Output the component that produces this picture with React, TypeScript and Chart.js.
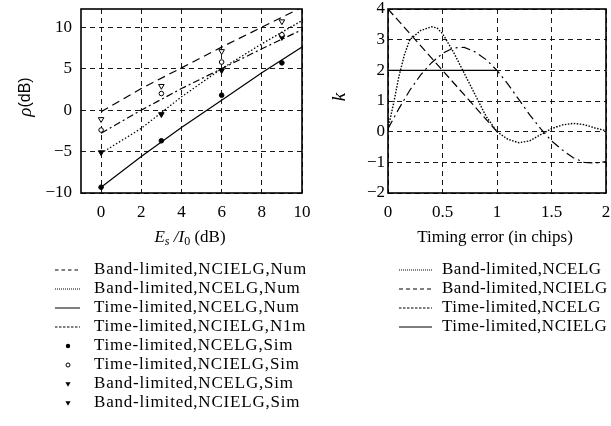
import React, { useEffect, useRef } from "react";
import { Chart, registerables } from "chart.js";

Chart.register(...registerables);

// ---------- Left panel: rho vs Es/I0 ----------
const esTicks = [0, 2, 4, 6, 8, 10];
const rhoTicks = [-10, -5, 0, 5, 10];
const numX = [0, 2, 4, 6, 8, 10];
const bandNCIELGNum = [-0.2, 2.6, 5.1, 7.6, 10.0, 12.4];
const bandNCELGNum = [-5.2, -2.2, 1.6, 5.0, 8.0, 10.8];
const timeNCELGNum = [-9.3, -5.6, -2.1, 1.2, 4.5, 7.6];
const timeNCIELGNum = [-2.8, 0.0, 2.6, 5.0, 7.4, 9.7];
const simX = [0, 3, 6, 9];
const timeNCELGSim = [-9.3, -3.7, 1.8, 5.7];
const timeNCIELGSim = [-2.4, 2.0, 5.8, 9.1];
const bandNCELGSim = [-5.1, -0.5, 4.8, 8.8];
const bandNCIELGSim = [-1.1, 2.9, 7.1, 10.7];
const leftLabels = [
  "Band-limited,NCIELG,Num",
  "Band-limited,NCELG,Num",
  "Time-limited,NCELG,Num",
  "Time-limited,NCIELG,N1m",
  "Time-limited,NCELG,Sim",
  "Time-limited,NCIELG,Sim",
  "Band-limited,NCELG,Sim",
  "Band-limited,NCIELG,Sim",
];

// ---------- Right panel: k vs timing error ----------
const chipTicks = [0, 0.5, 1, 1.5, 2];
const kTicks = [-2, -1, 0, 1, 2, 3, 4];
const bandNCELGX = [0, 0.05, 0.1, 0.15, 0.2, 0.3, 0.4, 0.45, 0.5, 0.6, 0.7, 0.8, 0.9, 1.0, 1.1, 1.2, 1.3, 1.4, 1.5, 1.6, 1.7, 1.8, 1.9, 2.0];
const bandNCELGK = [0.1, 0.9, 1.8, 2.5, 3.0, 3.3, 3.42, 3.38, 3.2, 2.6, 1.9, 1.2, 0.5, 0.0, -0.25, -0.36, -0.3, -0.1, 0.1, 0.22, 0.27, 0.23, 0.12, 0.03];
const bandNCIELGX = [0, 0.1, 0.2, 0.3, 0.4, 0.5, 0.6, 0.7, 0.8, 0.9, 1.0, 1.1, 1.2, 1.3, 1.4, 1.5, 1.6, 1.7, 1.8, 1.9, 2.0];
const bandNCIELGK = [0.1, 0.75, 1.35, 1.85, 2.25, 2.55, 2.73, 2.75, 2.6, 2.35, 2.0, 1.55, 1.05, 0.55, 0.1, -0.3, -0.6, -0.85, -1.0, -1.02, -0.98];
const timeNCELGX = [0, 1];
const timeNCELGK = [4, 0];
const timeNCIELGX = [0, 1];
const timeNCIELGK = [2, 2];
const rightLabels = [
  "Band-limited,NCELG",
  "Band-limited,NCIELG",
  "Time-limited,NCELG",
  "Time-limited,NCIELG",
];

const SERIF = "'Liberation Serif', 'Times New Roman', serif";
const SANS = "'Liberation Sans', Arial, sans-serif";
const legendRows = [270, 289, 308, 327, 346, 365, 384, 403];

const xy = (xs: number[], ys: number[]) => xs.map((x, i) => ({ x, y: ys[i] }));
const minus = (v: any) => String(v).replace("-", "\u2212");

type Run = { t: string; font: string; dy?: number };

function drawRuns(ctx: CanvasRenderingContext2D, runs: Run[], cx: number, cy: number) {
  let total = 0;
  for (const r of runs) {
    ctx.font = r.font;
    total += ctx.measureText(r.t).width;
  }
  let x = cx - total / 2;
  ctx.textBaseline = "middle";
  ctx.textAlign = "left";
  for (const r of runs) {
    ctx.font = r.font;
    ctx.fillText(r.t, x, cy + (r.dy || 0));
    x += ctx.measureText(r.t).width;
  }
}

const annotPlugin = {
  id: "annot",
  afterDraw(chart: any, _args: any, opts: any) {
    const ctx: CanvasRenderingContext2D = chart.ctx;
    const a = chart.chartArea;
    ctx.save();
    ctx.strokeStyle = "#000";
    ctx.lineWidth = 1.6;
    ctx.setLineDash([]);
    ctx.strokeRect(a.left, a.top, a.right - a.left, a.bottom - a.top);
    ctx.fillStyle = "#000";
    // x title
    drawRuns(ctx, opts.xTitle, opts.xTitlePos[0], opts.xTitlePos[1]);
    // y title (rotated)
    ctx.save();
    ctx.translate(opts.yTitlePos[0], opts.yTitlePos[1]);
    ctx.rotate(-Math.PI / 2);
    drawRuns(ctx, opts.yTitle, 0, 0);
    ctx.restore();
    // legend
    const ds = chart.data.datasets;
    opts.legend.forEach((item: any, i: number) => {
      const d = ds[item.ds];
      const y = legendRows[i];
      if (d.showLine) {
        ctx.save();
        ctx.strokeStyle = "#000";
        ctx.lineWidth = 1;
        ctx.setLineDash(item.dash || d.borderDash || []);
        ctx.beginPath();
        ctx.moveTo(opts.symX[0], y);
        ctx.lineTo(opts.symX[1], y);
        ctx.stroke();
        ctx.restore();
      } else {
        const r = Math.min(d.pointRadius, 2.6);
        ctx.save();
        ctx.translate(opts.markX, y);
        ctx.fillStyle = "#000";
        ctx.strokeStyle = "#000";
        ctx.lineWidth = 1;
        ctx.beginPath();
        if (d.pointStyle === "triangle") {
          ctx.moveTo(-r, -r * 0.7);
          ctx.lineTo(r, -r * 0.7);
          ctx.lineTo(0, r * 1.1);
          ctx.closePath();
          ctx.fill();
        } else if (d.backgroundColor === "#fff") {
          ctx.arc(0, 0, 2, 0, Math.PI * 2);
          ctx.stroke();
        } else {
          ctx.arc(0, 0, 2.2, 0, Math.PI * 2);
          ctx.fill();
        }
        ctx.restore();
      }
      ctx.save();
      ctx.font = `17px ${SERIF}`;
      (ctx as any).letterSpacing = opts.spacing;
      ctx.textAlign = "left";
      ctx.textBaseline = "middle";
      ctx.fillStyle = "#000";
      ctx.fillText(item.label, opts.textX, y);
      ctx.restore();
    });
    ctx.restore();
  },
};

function lineDs(data: any[], dash: number[], width = 1.2) {
  return {
    data,
    showLine: true,
    borderColor: "#000",
    borderWidth: width,
    borderDash: dash,
    pointRadius: 0,
    pointHoverRadius: 0,
    tension: 0,
    fill: false,
  };
}

function pointDs(data: any[], style: string, filled: boolean, radius: number) {
  return {
    data,
    showLine: false,
    pointStyle: style,
    rotation: style === "triangle" ? 180 : 0,
    pointRadius: radius,
    pointBorderWidth: 1,
    borderColor: "#000",
    backgroundColor: filled ? "#000" : "#fff",
    pointBackgroundColor: filled ? "#000" : "#fff",
    pointBorderColor: "#000",
  };
}

function axis(min: number, max: number, ticks: number[], isX: boolean, size: number, pad: number) {
  return {
    type: "linear",
    min,
    max,
    afterBuildTicks: (s: any) => {
      s.ticks = ticks.map((v) => ({ value: v }));
    },
    afterFit: (s: any) => {
      if (isX) s.height = size;
      else s.width = size;
      s.paddingTop = 0;
      s.paddingBottom = 0;
      s.paddingLeft = 0;
      s.paddingRight = 0;
    },
    ticks: {
      color: "#000",
      font: { family: SERIF, size: 17 },
      padding: pad,
      autoSkip: false,
      maxRotation: 0,
      callback: (v: any) => minus(v),
    },
    grid: { color: "#1a1a1a", lineWidth: 1, drawTicks: false },
    border: { display: false, dash: [5, 4] },
  };
}

function useChart(ref: React.RefObject<HTMLCanvasElement>, make: () => any) {
  useEffect(() => {
    if (!ref.current) return;
    const chart = new Chart(ref.current, make());
    return () => chart.destroy();
  }, []);
}

export default function App() {
  const leftRef = useRef<HTMLCanvasElement>(null);
  const rightRef = useRef<HTMLCanvasElement>(null);

  useChart(leftRef, () => ({
    type: "scatter",
    data: {
      datasets: [
        lineDs(xy(numX, bandNCIELGNum), [8, 5]),
        lineDs(xy(numX, bandNCELGNum), [1.5, 2]),
        lineDs(xy(numX, timeNCELGNum), []),
        lineDs(xy(numX, timeNCIELGNum), [7, 3, 2, 3]),
        pointDs(xy(simX, timeNCELGSim), "circle", true, 2.3),
        pointDs(xy(simX, timeNCIELGSim), "circle", false, 2.3),
        pointDs(xy(simX, bandNCELGSim), "triangle", true, 3.2),
        pointDs(xy(simX, bandNCIELGSim), "triangle", false, 3.2),
      ],
    },
    options: {
      animation: false,
      responsive: false,
      devicePixelRatio: 1,
      layout: { padding: { left: 0, right: 9, top: 9, bottom: 0 } },
      plugins: {
        legend: { display: false },
        tooltip: { enabled: false },
        annot: {
          xTitle: [
            { t: "E", font: `italic 17px ${SERIF}` },
            { t: "s", font: `italic 12px ${SERIF}`, dy: 4 },
            { t: " /", font: `italic 17px ${SERIF}` },
            { t: "I", font: `italic 17px ${SERIF}` },
            { t: "0", font: `12px ${SERIF}`, dy: 4 },
            { t: " (dB)", font: `17px ${SERIF}` },
          ],
          xTitlePos: [190, 238],
          yTitle: [
            { t: "\u03C1", font: `italic 19px ${SERIF}` },
            { t: "(dB)", font: `16px ${SANS}` },
          ],
          yTitlePos: [26, 97],
          legend: leftLabels.map((label, i) => ({
            ds: i,
            label,
            dash: [[3.5, 3], [1, 1], [], [2.5, 1.5]][i],
          })),
          symX: [55, 80],
          markX: 68,
          textX: 94,
          spacing: "0.8px",
        },
      },
      scales: {
        x: axis(-1, 10, esTicks, true, 233, 9),
        y: axis(-10, 12.2, rhoTicks, false, 81, 9),
      },
    },
    plugins: [annotPlugin],
  }));

  useChart(rightRef, () => ({
    type: "scatter",
    data: {
      datasets: [
        lineDs(xy(bandNCELGX, bandNCELGK), [1.5, 1.5], 1.4),
        lineDs(xy(bandNCIELGX, bandNCIELGK), [9, 4, 2, 4]),
        lineDs(xy(timeNCELGX, timeNCELGK), [8, 4]),
        lineDs(xy(timeNCIELGX, timeNCIELGK), []),
      ],
    },
    options: {
      animation: false,
      responsive: false,
      devicePixelRatio: 1,
      layout: { padding: { left: 0, right: 5, top: 9, bottom: 0 } },
      plugins: {
        legend: { display: false },
        tooltip: { enabled: false },
        annot: {
          xTitle: [{ t: "Timing error (in chips)", font: `17px ${SERIF}` }],
          xTitlePos: [184, 238],
          yTitle: [{ t: "k", font: `italic 19px ${SERIF}` }],
          yTitlePos: [29, 97],
          legend: rightLabels.map((label, i) => ({
            ds: i,
            label,
            dash: [[1, 1], [4, 3], [2.5, 1.5], []][i],
          })),
          symX: [88, 121],
          markX: 104,
          textX: 131,
          spacing: "0.5px",
        },
      },
      scales: {
        x: axis(0, 2, chipTicks, true, 233, 9),
        y: axis(-2, 4, kTicks, false, 77, 3),
      },
    },
    plugins: [annotPlugin],
  }));

  return (
    <div style={{ position: "absolute", left: 0, top: 0, width: 611, height: 426, background: "#fff" }}>
      <canvas ref={leftRef} width={311} height={426} style={{ position: "absolute", left: 0, top: 0 }} />
      <canvas ref={rightRef} width={300} height={426} style={{ position: "absolute", left: 311, top: 0 }} />
    </div>
  );
}
